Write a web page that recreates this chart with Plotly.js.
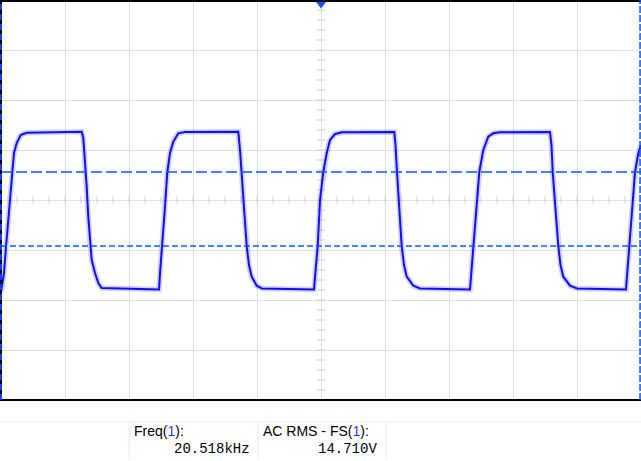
<!DOCTYPE html>
<html>
<head>
<meta charset="utf-8">
<script src="https://cdn.plot.ly/plotly-3.0.1.min.js"></script>
<style>
  html, body { margin: 0; padding: 0; background: #ffffff; }
  #chart { width: 641px; height: 461px; }
</style>
</head>
<body>
<div id="chart"></div>
<script>
// ---- Waveform (channel 1), time in microseconds, amplitude in volts (20 us/div, 10 V/div)
const timeUs = [
  0, 0.94, 1.56, 2.28, 2.81, 3.34, 4.06, 4.91, 6.16, 8.03, 15.31, 25.22,
  25.72, 26.25, 26.78, 27.28, 27.81, 28.34, 29.38, 30.41, 31.47, 40.31, 49.38,
  49.69, 50.22, 51.25, 51.97, 52.81, 53.84, 55.41, 57.5, 74.16,
  74.69, 75.22, 75.94, 76.78, 77.5, 78.34, 79.91, 81.56, 97.81,
  98.28, 98.97, 99.69, 100.72, 101.78, 102.81, 104.38, 106.56, 122.91,
  123.28, 123.75, 124.53, 125.22, 125.94, 126.78, 128.84, 130.94, 146.56,
  147.03, 147.81, 148.59, 149.47, 150.72, 152.28, 153.84, 155.94, 171.56,
  172.03, 172.41, 173.28, 174.16, 174.84, 175.72, 177.81, 180.0, 195.31,
  195.78, 196.34, 197.19, 198.13, 199.16, 200.0
];
const voltsV = [
  -18.4, -14.6, -9.4, -4.0, 1.4, 5.6, 9.4, 11.4, 13.0, 13.46, 13.6, 13.66,
  12.4, 8.0, 2.6, -3.4, -8.6, -12.0, -14.6, -16.6, -17.6, -17.8, -17.9,
  -14.6, -9.34, -1.34, 5.54, 9.4, 11.66, 13.34, 13.6, 13.66,
  10.0, 5.6, -2.0, -9.2, -13.0, -15.34, -17.14, -17.7, -17.9,
  -14.0, -9.2, 0.0, 5.6, 9.34, 12.0, 13.2, 13.54, 13.6,
  11.0, 5.6, -2.0, -9.2, -13.0, -15.34, -17.14, -17.7, -17.9,
  -14.0, -9.2, -1.6, 5.6, 10.0, 12.66, 13.34, 13.54, 13.6,
  11.0, 5.6, -2.0, -9.2, -13.0, -15.34, -17.14, -17.7, -17.9,
  -14.0, -9.2, -1.6, 5.6, 9.34, 11.0
];

// ---- Horizontal cursor levels (V) and trigger position (us)
const cursorLevelsV = [5.6, -9.2];
const triggerTimeUs = [100];
const triggerMarkV = [39.3];

// ---- Axes / graticule
const timeRangeUs = [0, 200];
const voltRangeV = [-40, 40];

// ---- Measurements
const measNames = ["Freq", "AC RMS - FS"];
const measChannels = ["1", "1"];
const measValues = ["20.518kHz", "14.710V"];

// graticule minor ticks on the centre lines
const hTickX = [], hTickY = [];
for (let t = timeRangeUs[0]; t <= timeRangeUs[1]; t += 5) { hTickX.push(t); hTickY.push(0); }
const vTickX = [], vTickY = [];
for (let v = voltRangeV[0]; v <= voltRangeV[1]; v += 2) { vTickX.push(100); vTickY.push(v); }

const traceBlue = '#1010ee';
const cursorBlue = '#0a55ff';
const gridCol = '#e0e0e0';
const tickCol = '#d4d4d4';

const data = [
  { x: hTickX, y: hTickY, type: 'scatter', mode: 'markers', hoverinfo: 'skip', showlegend: false,
    marker: { symbol: 'line-ns-open', size: 5, color: tickCol, line: { color: tickCol, width: 1.2 } } },
  { x: vTickX, y: vTickY, type: 'scatter', mode: 'markers', hoverinfo: 'skip', showlegend: false,
    marker: { symbol: 'line-ew-open', size: 6, color: tickCol, line: { color: tickCol, width: 1.2 } } },
  { x: timeUs, y: voltsV, type: 'scatter', mode: 'lines', showlegend: false, hoverinfo: 'skip',
    line: { color: 'rgba(90,90,255,0.28)', width: 5.5 } },
  { x: timeUs, y: voltsV, type: 'scatter', mode: 'lines', showlegend: false,
    line: { color: traceBlue, width: 2 } },
  { x: triggerTimeUs, y: triggerMarkV, type: 'scatter', mode: 'markers', showlegend: false, cliponaxis: false,
    marker: { symbol: 'triangle-down', size: 10, color: '#0a55ff' } }
];

const shapes = [];
// cursor lines
shapes.push({ type: 'line', xref: 'paper', yref: 'y', x0: 0, x1: 1, y0: cursorLevelsV[0], y1: cursorLevelsV[0],
  line: { color: cursorBlue, width: 1.5, dash: '11px,4px' } });
shapes.push({ type: 'line', xref: 'paper', yref: 'y', x0: 0, x1: 1, y0: cursorLevelsV[1], y1: cursorLevelsV[1],
  line: { color: cursorBlue, width: 1.5, dash: '6px,3px' } });
// frame: top and bottom black lines
shapes.push({ type: 'line', xref: 'paper', yref: 'paper', x0: -0.01, x1: 1.01, y0: 0.9975, y1: 0.9975,
  line: { color: '#000000', width: 2 } });
shapes.push({ type: 'line', xref: 'paper', yref: 'paper', x0: -0.01, x1: 1.01, y0: 0, y1: 0,
  line: { color: '#000000', width: 2 } });
// left edge: black with blue dashes
shapes.push({ type: 'line', xref: 'paper', yref: 'paper', x0: 0, x1: 0, y0: 0, y1: 1,
  line: { color: '#000000', width: 2 } });
shapes.push({ type: 'line', xref: 'paper', yref: 'paper', x0: 0, x1: 0, y0: 0, y1: 1,
  line: { color: '#1040ff', width: 2, dash: '6px,4px' } });
// right edge: blue dashed
shapes.push({ type: 'line', xref: 'paper', yref: 'paper', x0: 0.9985, x1: 0.9985, y0: 0, y1: 1,
  line: { color: cursorBlue, width: 1.5, dash: '7px,2px' } });
// measurement panel separators
shapes.push({ type: 'line', xref: 'paper', yref: 'paper', x0: -0.01, x1: 1.01, y0: -0.055, y1: -0.055,
  line: { color: '#f3eaea', width: 1 } });
[0.2, 0.4016, 0.6016].forEach(function (xp) {
  shapes.push({ type: 'line', xref: 'paper', yref: 'paper', x0: xp, x1: xp, y0: -0.0575, y1: -0.15,
    line: { color: '#f3e6e6', width: 1 } });
});

const labelFont = { family: '"Liberation Sans Narrow", "Liberation Sans", Arial, sans-serif', size: 14, color: '#000000' };
const valueFont = { family: '"Liberation Mono", "DejaVu Sans Mono", monospace', size: 14, color: '#000000' };
const cellLeft = [0.2, 0.4016];
const cellRight = [0.392, 0.5906];
const annotations = [];
for (let i = 0; i < measNames.length; i++) {
  annotations.push({ xref: 'paper', yref: 'paper', x: cellLeft[i] + 0.005, y: -0.0775, xanchor: 'left', yanchor: 'middle',
    showarrow: false, font: labelFont,
    text: measNames[i] + '(<span style="color:#1a3cff">' + measChannels[i] + '</span>):' });
  annotations.push({ xref: 'paper', yref: 'paper', x: cellRight[i], y: -0.1225, xanchor: 'right', yanchor: 'middle',
    showarrow: false, font: valueFont, text: measValues[i] });
}

const layout = {
  width: 641, height: 461,
  margin: { l: 1, r: 0, t: 0, b: 61, pad: 0 },
  paper_bgcolor: '#ffffff', plot_bgcolor: '#ffffff',
  showlegend: false,
  xaxis: { range: timeRangeUs, dtick: 20, tick0: 0, showgrid: true, gridcolor: gridCol, gridwidth: 1,
    zeroline: false, showline: false, showticklabels: false, ticks: '', fixedrange: true },
  yaxis: { range: voltRangeV, dtick: 10, tick0: 0, showgrid: true, gridcolor: gridCol, gridwidth: 1,
    zeroline: false, showline: false, showticklabels: false, ticks: '', fixedrange: true },
  shapes: shapes,
  annotations: annotations
};

Plotly.newPlot('chart', data, layout, { displayModeBar: false, staticPlot: true });
</script>
</body>
</html>
